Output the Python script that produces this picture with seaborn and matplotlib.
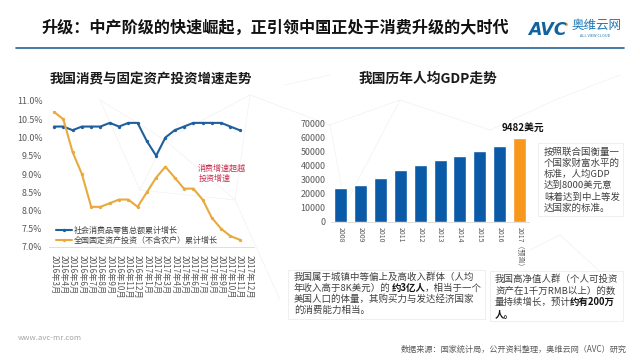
# plot.py
# Slide: consumption upgrade, growth lines on the left and GDP per capita bars on the right

import numpy as np
import pandas as pd
import matplotlib
matplotlib.use("Agg")
import matplotlib.pyplot as plt
import seaborn as sns

# ── Data ──────────────────────────────────────────────────────────────────────
MONTHS = [f"2016年{m}月" for m in range(3, 13)] + [f"2017年{m}月" for m in range(1, 13)]
RETAIL = [10.3, 10.3, 10.2, 10.3, 10.3, 10.3, 10.4, 10.3, 10.4, 10.4, 9.9,
          9.5, 10.0, 10.2, 10.3, 10.4, 10.4, 10.4, 10.4, 10.3, 10.2, np.nan]
INVEST = [10.7, 10.5, 9.6, 9.0, 8.1, 8.1, 8.2, 8.3, 8.3, 8.1, 8.5,
          8.9, 9.2, 8.9, 8.6, 8.6, 8.3, 7.8, 7.5, 7.3, 7.2, np.nan]
RETAIL_NAME = "社会消费品零售总额累计增长"
INVEST_NAME = "全国固定资产投资（不含农户）累计增长"
PCT_TICKS = [7.0, 7.5, 8.0, 8.5, 9.0, 9.5, 10.0, 10.5, 11.0]

YEARS = ["2008", "2009", "2010", "2011", "2012", "2013", "2014", "2015", "2016", "2017（预测）"]
GDP = [24000, 26000, 31000, 36500, 40000, 44000, 47000, 50000, 54000, 59500]
GDP_TICKS = [0, 10000, 20000, 30000, 40000, 50000, 60000, 70000]

# ── Style ─────────────────────────────────────────────────────────────────────
W, H = 640, 360
BLUE = "#1f5f9e"
ORANGE = "#e9a93c"
BAR_BLUE = "#0b5aa8"
BAR_ORANGE = "#f7981d"
TICK_GREY = "#595959"
TEXT_GREY = "#404040"

# faint world-map lattice behind the slide, pixel coordinates
LATTICE = [
    ((100, 100), (165, 140)), ((165, 140), (250, 95)), ((100, 100), (140, 190)),
    ((165, 140), (140, 190)), ((165, 140), (235, 200)), ((140, 190), (235, 200)),
    ((250, 95), (235, 200)), ((250, 95), (330, 125)), ((330, 125), (400, 100)),
    ((400, 100), (490, 130)), ((490, 130), (555, 100)), ((330, 125), (345, 205)),
    ((400, 100), (345, 205)), ((555, 100), (620, 75)), ((285, 85), (330, 75)),
    ((235, 200), (280, 300)), ((560, 235), (620, 290)), ((530, 250), (560, 235)),
]

sns.set_theme(style="white")
plt.rcParams["font.family"] = ["Noto Sans CJK SC", "DejaVu Sans"]
plt.rcParams["axes.unicode_minus"] = False


def px_axes(fig, left, top, right, bottom):
    return fig.add_axes([left / W, 1 - bottom / H, (right - left) / W, (bottom - top) / H])


def draw_lines(ax):
    long_df = pd.DataFrame({
        "month": MONTHS * 2,
        "value": RETAIL + INVEST,
        "series": [RETAIL_NAME] * len(MONTHS) + [INVEST_NAME] * len(MONTHS),
    })
    sns.lineplot(data=long_df, x="month", y="value", hue="series", sort=False, ax=ax,
                 palette={RETAIL_NAME: BLUE, INVEST_NAME: ORANGE},
                 linewidth=1.5, marker="o", markersize=2.4, markeredgewidth=0)
    ax.set_xlim(-0.5, len(MONTHS) - 0.5)
    ax.set_ylim(7.0, 11.0)
    ax.set_yticks(PCT_TICKS)
    ax.set_yticklabels([f"{v:.1f}%" for v in PCT_TICKS], fontsize=6.4, color=TICK_GREY)
    ax.set_xticks(range(len(MONTHS)))
    ax.set_xticklabels(MONTHS, rotation=-90, fontsize=5.9, color=TICK_GREY)
    ax.tick_params(axis="x", pad=6, length=0)
    ax.tick_params(axis="y", pad=5, length=0)
    ax.set_xlabel("")
    ax.set_ylabel("")
    sns.despine(ax=ax, left=True)
    ax.spines["bottom"].set_color("#d9d9d9")
    ax.spines["bottom"].set_linewidth(0.6)
    ax.patch.set_alpha(0)
    ax.legend(loc="lower left", bbox_to_anchor=(0.03, 0.015), frameon=False, fontsize=5.8,
              handlelength=2.0, handletextpad=0.25, labelspacing=0.1, labelcolor=TEXT_GREY,
              borderpad=0, borderaxespad=0)


def draw_bars(ax):
    colors = [BAR_BLUE] * (len(YEARS) - 1) + [BAR_ORANGE]
    sns.barplot(x=YEARS, y=GDP, hue=YEARS, palette=colors, legend=False, width=0.66,
                saturation=1, ax=ax)
    ax.set_xlim(-0.5, len(YEARS) - 0.5)
    ax.set_ylim(0, 70000)
    ax.set_yticks(GDP_TICKS)
    ax.set_yticklabels([str(v) for v in GDP_TICKS], fontsize=6.4, color=TICK_GREY)
    ax.set_xticks(range(len(YEARS)))
    ax.set_xticklabels(YEARS, rotation=-90, fontsize=5.0, color=TICK_GREY)
    ax.tick_params(axis="x", pad=4, length=0)
    ax.tick_params(axis="y", pad=4, length=0)
    sns.despine(ax=ax, left=True)
    ax.spines["bottom"].set_color("#d9d9d9")
    ax.spines["bottom"].set_linewidth(0.6)
    ax.patch.set_alpha(0)


def draw_slide_text(ax):
    ax.set_xlim(0, W)
    ax.set_ylim(H, 0)
    ax.axis("off")

    for (x0, y0), (x1, y1) in LATTICE:
        ax.plot([x0, x1], [y0, y1], color="#f1f1f1", linewidth=0.5, zorder=0)

    # header
    ax.text(41, 27.5, "升级：中产阶级的快速崛起，正引领中国正处于消费升级的大时代",
            fontsize=11.6, fontweight="bold", color="#111111", va="center")
    ax.plot([16, 624], [48, 48], color="#1f6396", linewidth=1.2)
    ax.text(528, 30, "AVC", fontsize=12.5, fontweight="bold", style="italic", color="#10639f",
            family="DejaVu Sans", va="center")
    ax.plot([566], [24], marker="o", markersize=2, color="#f7981d", markeredgewidth=0)
    ax.text(572, 25.5, "奥维云网", fontsize=9, color="#1f78b4", va="center")
    ax.text(580, 36, "ALL VIEW CLOUD", fontsize=2.8, color="#1f78b4", va="center")

    # chart titles
    ax.text(151, 79, "我国消费与固定资产投资增速走势", fontsize=9.7, fontweight="bold",
            color="#1a1a1a", ha="center", va="center")
    ax.text(428, 79, "我国历年人均GDP走势", fontsize=9.9, fontweight="bold",
            color="#1a1a1a", ha="center", va="center")

    # annotations
    ax.text(198, 168, "消费增速超越", fontsize=5.8, color="#c5304f", va="center")
    ax.text(199, 178, "投资增速", fontsize=5.8, color="#c5304f", va="center")
    ax.text(523, 128, "9482美元", fontsize=7, fontweight="bold", color="#111111",
            ha="center", va="center")

    # text boxes
    for x0, y0, x1, y1 in [(538, 143, 623, 216), (288, 270, 485, 319), (490, 271, 623, 321)]:
        ax.add_patch(plt.Rectangle((x0, y0), x1 - x0, y1 - y0, facecolor="white",
                                   edgecolor="#ececec", linewidth=0.6))

    gdp_note = ["按照联合国衡量一", "个国家财富水平的", "标准，人均GDP",
                "达到8000美元意", "味着达到中上等发", "达国家的标准。"]
    for line, y in zip(gdp_note, [152, 163, 174, 185, 197, 208]):
        ax.text(544, y, line, fontsize=6.8, color=TEXT_GREY, va="center")

    ax.text(294, 277, "我国属于城镇中等偏上及高收入群体（人均", fontsize=6.8, color=TEXT_GREY, va="center")
    ax.text(294, 288, "年收入高于8K美元）的", fontsize=6.8, color=TEXT_GREY, va="center")
    ax.text(392, 288, "约3亿人", fontsize=6.8, fontweight="bold", style="italic",
            color="#111111", va="center")
    ax.text(425, 288, "，相当于一个", fontsize=6.8, color=TEXT_GREY, va="center")
    ax.text(294, 299, "美国人口的体量，其购买力与发达经济国家", fontsize=6.8, color=TEXT_GREY, va="center")
    ax.text(294, 310, "的消费能力相当。", fontsize=6.8, color=TEXT_GREY, va="center")

    ax.text(495, 279, "我国高净值人群（个人可投资", fontsize=6.8, color=TEXT_GREY, va="center")
    ax.text(495, 291, "资产在1千万RMB以上）的数", fontsize=6.8, color=TEXT_GREY, va="center")
    ax.text(495, 302, "量持续增长，预计", fontsize=6.8, color=TEXT_GREY, va="center")
    ax.text(570, 302, "约有200万", fontsize=6.8, fontweight="bold", style="italic",
            color="#111111", va="center")
    ax.text(495, 315, "人。", fontsize=6.8, fontweight="bold", style="italic",
            color="#111111", va="center")

    # footer
    ax.text(18, 338, "www.avc-mr.com", fontsize=5.6, color="#a6a6a6", va="center")
    ax.text(627, 349, "数据来源：国家统计局，公开资料整理，奥维云网（AVC）研究", fontsize=5.85,
            color="#595959", ha="right", va="center")


def main():
    fig = plt.figure(figsize=(W / 100, H / 100), dpi=100, facecolor="white")

    draw_slide_text(px_axes(fig, 0, 0, W, H))
    draw_lines(px_axes(fig, 49.4, 101, 253.6, 247))
    draw_bars(px_axes(fig, 331, 123.3, 529.3, 221.7))

    fig.savefig("out.png", dpi=100)
    plt.close(fig)


if __name__ == "__main__":
    main()
